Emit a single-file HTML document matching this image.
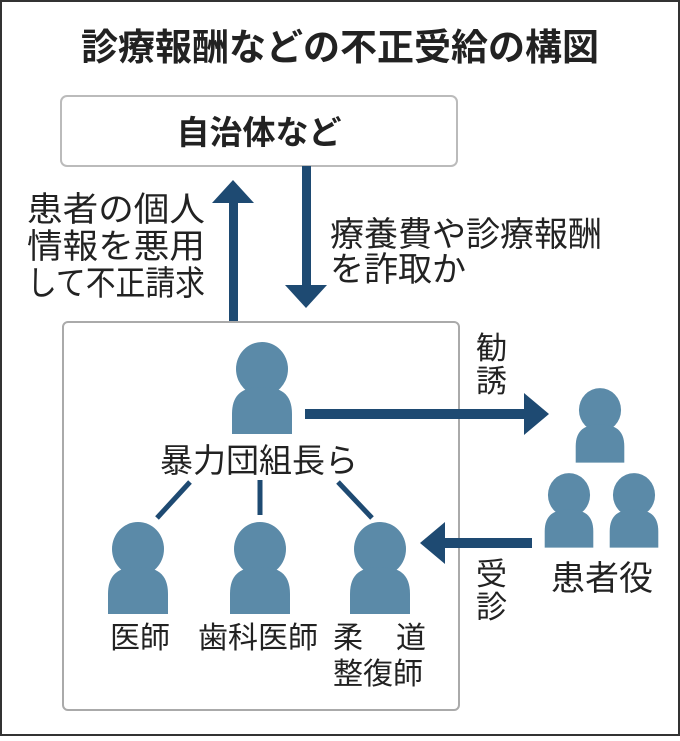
<!DOCTYPE html>
<html><head><meta charset="utf-8"><style>
body{margin:0;background:#fff;}
svg text{font-family:"Liberation Sans","Noto Sans CJK JP",sans-serif;fill:#222;}
</style></head><body>
<svg width="680" height="736" viewBox="0 0 680 736" xmlns="http://www.w3.org/2000/svg">
<defs>
<g id="p">
<ellipse cx="0" cy="0" rx="26" ry="27" fill="#5b8aa8"/>
<path d="M-30,65 L-30,45 C-30,24 -18,18 0,18 C18,18 30,24 30,45 L30,65 Z" fill="#5b8aa8"/>
</g>
</defs>
<rect x="1" y="1" width="678" height="734" fill="#fff" stroke="#333" stroke-width="2"/>
<text x="340" y="60" text-anchor="middle" font-size="37" font-weight="bold">診療報酬などの不正受給の構図</text>
<rect x="61" y="96" width="396" height="70" rx="6" fill="#fff" stroke="#bbb" stroke-width="2"/>
<text x="259" y="144" text-anchor="middle" font-size="33" font-weight="bold">自治体など</text>
<rect x="229" y="200" width="9" height="122" fill="#1e4a72"/>
<polygon points="233,180 212,203 254,203" fill="#1e4a72"/>
<rect x="302" y="166" width="9" height="122" fill="#1e4a72"/>
<polygon points="306,308 285,285 327,285" fill="#1e4a72"/>
<g font-size="34">
<text x="27" y="221" textLength="178" lengthAdjust="spacingAndGlyphs">患者の個人</text>
<text x="27" y="258" textLength="178" lengthAdjust="spacingAndGlyphs">情報を悪用</text>
<text x="27" y="295" textLength="178" lengthAdjust="spacingAndGlyphs">して不正請求</text>
<text x="330" y="246">療養費や診療報酬</text>
<text x="330" y="281">を詐取か</text>
</g>
<rect x="63" y="322" width="396" height="388" rx="5" fill="none" stroke="#aaa" stroke-width="2"/>
<use href="#p" transform="translate(262,369)"/>
<text x="259" y="472" text-anchor="middle" font-size="33">暴力団組長ら</text>
<g stroke="#1e4a72" stroke-width="5">
<line x1="190" y1="482" x2="157" y2="518"/>
<line x1="260" y1="480" x2="260" y2="515"/>
<line x1="338" y1="482" x2="372" y2="518"/>
</g>
<use href="#p" transform="translate(138,549)"/>
<use href="#p" transform="translate(260,549)"/>
<use href="#p" transform="translate(380,549)"/>
<g font-size="30">
<text x="110" y="648">医師</text>
<text x="198" y="648">歯科医師</text>
<text x="333" y="648">柔</text><text x="396" y="648">道</text>
<text x="333" y="684">整復師</text>
</g>
<text x="551" y="590" font-size="34">患者役</text>
<g font-size="31">
<text x="476" y="359">勧</text><text x="476" y="392">誘</text>
<text x="476" y="585">受</text><text x="476" y="618">診</text>
</g>
<rect x="305" y="409" width="225" height="10" fill="#1e4a72"/>
<polygon points="549,414 524,393 524,435" fill="#1e4a72"/>
<rect x="440" y="538" width="92" height="10" fill="#1e4a72"/>
<polygon points="420,543 445,522 445,564" fill="#1e4a72"/>
<use href="#p" transform="translate(600,410) scale(0.81)"/>
<use href="#p" transform="translate(569,495) scale(0.81)"/>
<use href="#p" transform="translate(634,495) scale(0.81)"/>
</svg>
</body></html>
